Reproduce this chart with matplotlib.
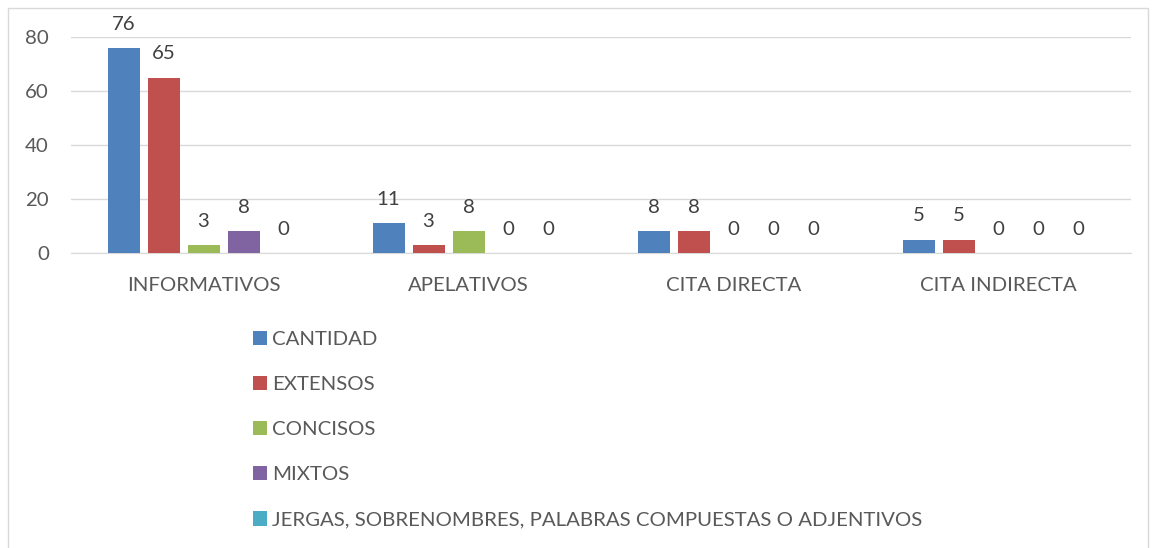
import matplotlib
matplotlib.use("Agg")
import matplotlib.pyplot as plt
import numpy as np
from matplotlib.patches import Rectangle

categories = ["INFORMATIVOS", "APELATIVOS", "CITA DIRECTA", "CITA INDIRECTA"]
series_names = ["CANTIDAD", "EXTENSOS", "CONCISOS", "MIXTOS",
                "JERGAS, SOBRENOMBRES, PALABRAS COMPUESTAS O ADJENTIVOS"]
cantidad = [76, 11, 8, 5]
extensos = [65, 3, 8, 5]
concisos = [3, 8, 0, 0]
mixtos = [8, 0, 0, 0]
jergas = [0, 0, 0, 0]
yticks = [0, 20, 40, 60, 80]

series = [cantidad, extensos, concisos, mixtos, jergas]
colors = ["#4F81BD", "#C0504D", "#9BBB59", "#8064A2", "#4BACC6"]
text_color = "#595959"

plt.rcParams['font.family'] = ['Lato', 'DejaVu Sans']
FS = 14.7

W, H = 1152, 548
fig = plt.figure(figsize=(W / 100, H / 100), dpi=100)
ax = fig.add_axes([71 / W, 1 - 253 / H, (1131 - 71) / W, (253 - 37) / H])

x = np.arange(len(categories))
step = 40 / 265
bw = 32 / 265
handles = []
for i, (vals, c, name) in enumerate(zip(series, colors, series_names)):
    pos = x + (i - 2) * step
    b = ax.bar(pos, vals, width=bw, color=c, label=name, zorder=3)
    handles.append(b)
    for px, v in zip(pos, vals):
        ax.annotate(str(v), (px, v), xytext=(0, 17), textcoords="offset points",
                    ha="center", va="center", fontsize=FS, color="#404040",
                    annotation_clip=False, zorder=4)

ax.set_xlim(-0.5, len(categories) - 0.5)
ax.set_ylim(0, 80)
ax.set_yticks(yticks)
ax.set_xticks(x)
ax.set_xticklabels(categories)
ax.yaxis.grid(True, color="#D9D9D9", linewidth=1, zorder=0)
for s in ["top", "right", "left"]:
    ax.spines[s].set_visible(False)
ax.spines["bottom"].set_color("#D9D9D9")
ax.tick_params(axis="both", length=0, colors=text_color, labelsize=FS)
ax.tick_params(axis="x", pad=17.5)
ax.tick_params(axis="y", pad=16)

leg = fig.legend(handles=handles, labels=series_names, loc="upper left",
                 bbox_to_anchor=(253 / W, 1 - 331 / H), frameon=False,
                 fontsize=FS, labelcolor=text_color, handlelength=0.7,
                 handleheight=0.7, handletextpad=0.25, labelspacing=1.36,
                 borderaxespad=0, borderpad=0)

fig.add_artist(Rectangle((8 / W, -0.01), (1148 - 8) / W, 1 - 8 / H + 0.01,
                         transform=fig.transFigure, fill=False,
                         edgecolor="#D9D9D9", linewidth=1))

fig.savefig("out.png", dpi=100, facecolor="white")
